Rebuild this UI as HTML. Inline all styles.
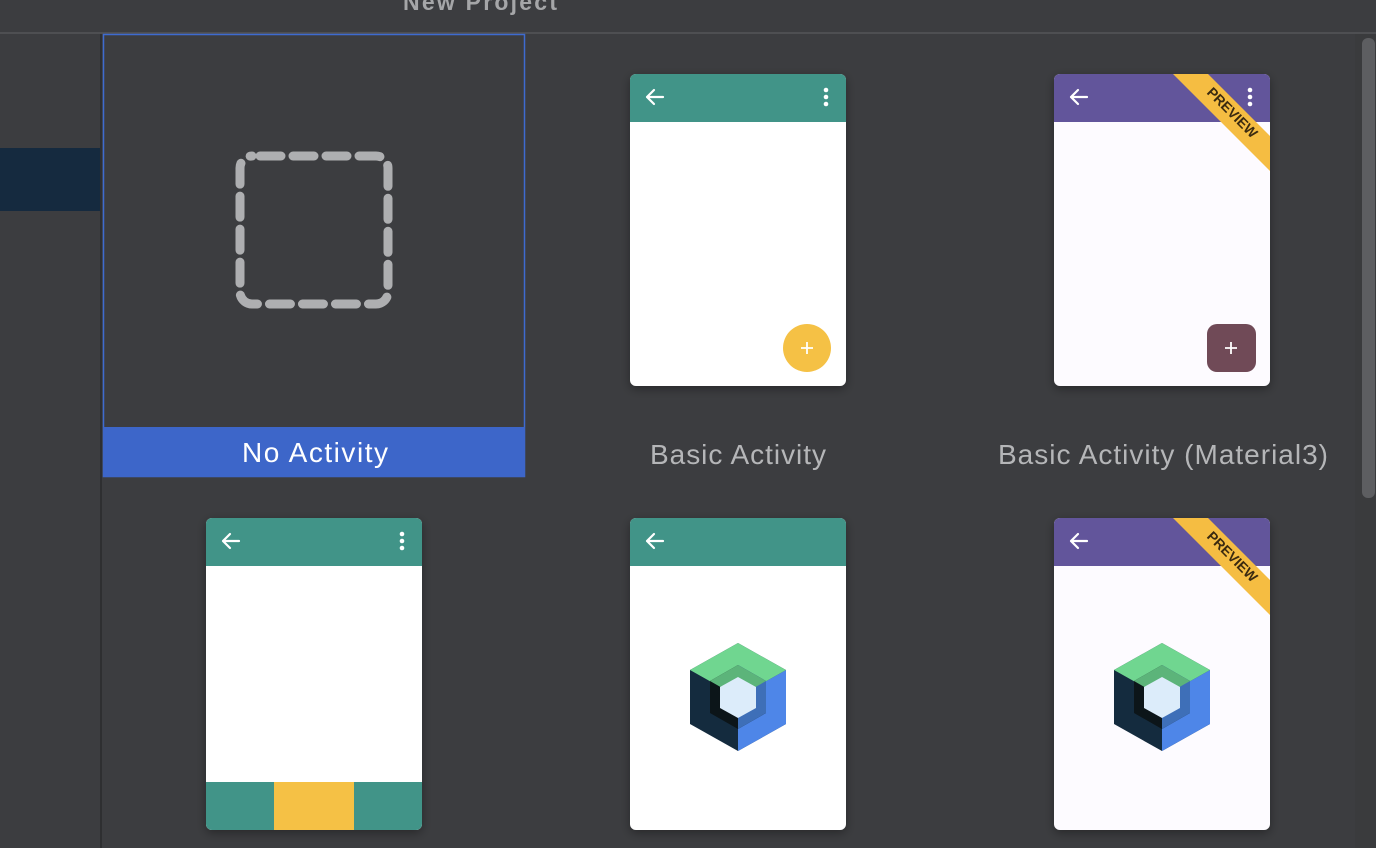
<!DOCTYPE html>
<html><head><style>
html,body{margin:0;padding:0;background:#3c3d40;width:1376px;height:848px;overflow:hidden}
svg{display:block}
</style></head><body>
<svg width="1376" height="848" xmlns="http://www.w3.org/2000/svg" font-family="Liberation Sans, sans-serif">
<defs>
<filter id="sh" x="-20%" y="-20%" width="140%" height="140%"><feDropShadow dx="0" dy="3" stdDeviation="5" flood-color="#000" flood-opacity="0.35"/></filter>
<clipPath id="c3"><rect x="1054" y="74" width="216" height="312" rx="6"/></clipPath>
<clipPath id="c6"><rect x="1054" y="518" width="216" height="312" rx="6"/></clipPath>
<clipPath id="c4"><rect x="206" y="518" width="216" height="312" rx="6"/></clipPath>
<g id="hex">
<polygon points="0,-54 48,-27 48,27 0,54 -48,27 -48,-27" fill="#142b3e"/>
<polygon points="0,0 48,-27 48,27 0,54" fill="#4e86e8"/>
<polygon points="0,-54 48,-27 0,0 -48,-27" fill="#70d690"/>
<polygon points="0,-32 28,-16 28,16 0,32 -28,16 -28,-16" fill="#0c1519"/>
<polygon points="0,-32 28,-16 28,16 0,32 0,0" fill="#3e6fb8"/>
<polygon points="0,-32 28,-16 0,0 -28,-16" fill="#5cb47a"/>
<polygon points="0,-20 18,-10 18,11 0,21 -18,11 -18,-10" fill="#dcecfa"/>
</g>
<g id="arrow" fill="none" stroke="#fff" stroke-width="2.2" stroke-linecap="round"><path d="M0,0 H16 M0,0 L7,-7 M0,0 L7,7"/></g>
<g id="dots" fill="#fff"><circle cx="0" cy="-7" r="2.3"/><circle cx="0" cy="0" r="2.3"/><circle cx="0" cy="7" r="2.3"/></g>
</defs>
<!-- header -->
<text x="480" y="10" text-anchor="middle" font-size="23" font-weight="bold" fill="#a5a6a8" textLength="154">New Project</text>
<rect x="0" y="32" width="1376" height="2" fill="#4e4f52"/>
<!-- sidebar -->
<rect x="100" y="34" width="2" height="814" fill="#2e2f31"/>
<rect x="0" y="148" width="100" height="63" fill="#152a3f"/>
<!-- scrollbar -->
<rect x="1355" y="34" width="21" height="814" fill="#3a3b3d"/>
<rect x="1362" y="38" width="13" height="460" rx="6" fill="#5d5e61"/>
<!-- selected card -->
<rect x="103.5" y="34.5" width="421" height="442" fill="none" stroke="#3e6bd0" stroke-width="1.5"/>
<rect x="103" y="427" width="422" height="50" fill="#3d66c9"/>
<text x="315" y="462" text-anchor="middle" font-size="28" fill="#fff" textLength="146">No Activity</text>
<rect x="240" y="156" width="148" height="148" rx="12" fill="none" stroke="#aeafb1" stroke-width="9" stroke-dasharray="21 12" stroke-dashoffset="-8" stroke-linecap="round"/>
<!-- card 1 -->
<g filter="url(#sh)"><rect x="630" y="74" width="216" height="312" rx="6" fill="#fff"/></g>
<path d="M630,122 V80 a6,6 0 0 1 6,-6 H840 a6,6 0 0 1 6,6 V122 Z" fill="#419488"/>
<use href="#arrow" x="647" y="97"/><use href="#dots" x="826" y="97"/>
<circle cx="807" cy="348" r="24" fill="#f5c145"/>
<path d="M801,348 h12 M807,342 v12" stroke="#fff" stroke-width="1.8"/>
<text x="738" y="464" text-anchor="middle" font-size="28" fill="#b5b6b8" textLength="176">Basic Activity</text>
<!-- card 2 -->
<g filter="url(#sh)"><rect x="1054" y="74" width="216" height="312" rx="6" fill="#fdfbff"/></g>
<g clip-path="url(#c3)">
<rect x="1054" y="74" width="216" height="48" fill="#62559b"/>
<polygon points="1173,74 1208,74 1270,136 1270,171" fill="#f5bd42"/>
<text x="0" y="0" transform="translate(1229,116) rotate(45)" text-anchor="middle" font-size="14" font-weight="bold" fill="#3a2a10">PREVIEW</text>
</g>
<use href="#arrow" x="1071" y="97"/><use href="#dots" x="1250" y="97"/>
<rect x="1207" y="324" width="49" height="48" rx="10" fill="#704a57"/>
<path d="M1225,348 h12 M1231,342 v12" stroke="#fff" stroke-width="1.8"/>
<text x="1163" y="464" text-anchor="middle" font-size="28" fill="#b5b6b8" textLength="330">Basic Activity (Material3)</text>
<!-- row 2 card 1 -->
<g filter="url(#sh)"><rect x="206" y="518" width="216" height="312" rx="6" fill="#fff"/></g>
<g clip-path="url(#c4)">
<rect x="206" y="518" width="216" height="48" fill="#419488"/>
<rect x="206" y="782" width="216" height="48" fill="#419488"/>
<rect x="274" y="782" width="80" height="48" fill="#f5c145"/>
</g>
<use href="#arrow" x="223" y="541"/><use href="#dots" x="402" y="541"/>
<!-- row 2 card 2 -->
<g filter="url(#sh)"><rect x="630" y="518" width="216" height="312" rx="6" fill="#fff"/></g>
<path d="M630,566 V524 a6,6 0 0 1 6,-6 H840 a6,6 0 0 1 6,6 V566 Z" fill="#419488"/>
<use href="#arrow" x="647" y="541"/>
<use href="#hex" x="738" y="697"/>
<!-- row 2 card 3 -->
<g filter="url(#sh)"><rect x="1054" y="518" width="216" height="312" rx="6" fill="#fdfbff"/></g>
<g clip-path="url(#c6)">
<rect x="1054" y="518" width="216" height="48" fill="#62559b"/>
<polygon points="1173,518 1208,518 1270,580 1270,615" fill="#f5bd42"/>
<text x="0" y="0" transform="translate(1229,560) rotate(45)" text-anchor="middle" font-size="14" font-weight="bold" fill="#3a2a10">PREVIEW</text>
</g>
<use href="#arrow" x="1071" y="541"/>
<use href="#hex" x="1162" y="697"/>
</svg>
</body></html>
